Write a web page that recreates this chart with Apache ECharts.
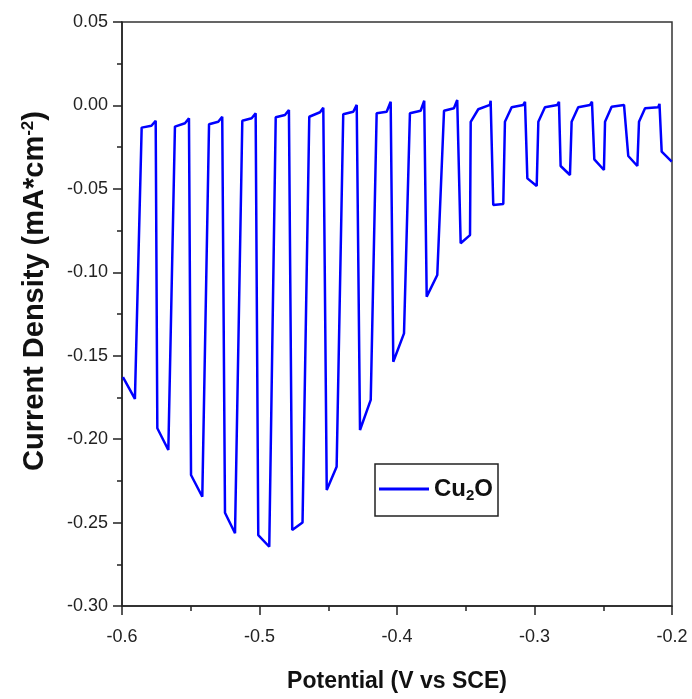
<!DOCTYPE html>
<html>
<head>
<meta charset="utf-8">
<script src="https://cdn.jsdelivr.net/npm/echarts@6/dist/echarts.min.js"></script>
<style>html,body{margin:0;padding:0;background:#fff}#c{width:692px;height:699px}</style>
</head>
<body>
<div id="c"></div>
<script>
// Potential (V vs SCE)
var potential = [
  -0.5993, -0.5906, -0.5857, -0.5786, -0.5755,
  -0.5743, -0.5663, -0.5615, -0.5542, -0.5513,
  -0.5498, -0.5416, -0.5367, -0.5300, -0.5271,
  -0.5251, -0.5178, -0.5125, -0.5057, -0.5028,
  -0.5009, -0.4929, -0.4882, -0.4815, -0.4786,
  -0.4762, -0.4687, -0.4638, -0.4560, -0.4536,
  -0.4511, -0.4439, -0.4391, -0.4318, -0.4293,
  -0.4269, -0.4191, -0.4148, -0.4075, -0.4046,
  -0.4027, -0.3949, -0.3906, -0.3828, -0.3802,
  -0.3784, -0.3707, -0.3658, -0.3586, -0.3562,
  -0.3537, -0.3469, -0.3464, -0.3409, -0.3324, -0.3319,
  -0.3300, -0.3227, -0.3215, -0.3166, -0.3082, -0.3069,
  -0.3052, -0.2984, -0.2972, -0.2924, -0.2834, -0.2822,
  -0.2810, -0.2742, -0.2730, -0.2682, -0.2596, -0.2582,
  -0.2565, -0.2495, -0.2487, -0.2439, -0.2349, -0.2337,
  -0.2318, -0.2252, -0.2240, -0.2196, -0.2100, -0.2091,
  -0.2075, -0.2002
];
// Current density (mA*cm^-2)
var current = [
  -0.1628, -0.1759, -0.0133, -0.0122, -0.0092,
  -0.1935, -0.2065, -0.0127, -0.0107, -0.0077,
  -0.2215, -0.2345, -0.0113, -0.0098, -0.0068,
  -0.2441, -0.2564, -0.0092, -0.0077, -0.0047,
  -0.2575, -0.2645, -0.0071, -0.0057, -0.0027,
  -0.2545, -0.2500, -0.0068, -0.0041, -0.0014,
  -0.2305, -0.2165, -0.0053, -0.0038, 0.0003,
  -0.1945, -0.1765, -0.0047, -0.0038, 0.0022,
  -0.1536, -0.1366, -0.0047, -0.0032, 0.0028,
  -0.1146, -0.1016, -0.0032, -0.0017, 0.0033,
  -0.0826, -0.0777, -0.0098, -0.0023, 0.0003, 0.0028,
  -0.0597, -0.0591, -0.0098, -0.0011, 0.0003, 0.0022,
  -0.0437, -0.0483, -0.0098, -0.0011, 0.0003, 0.0022,
  -0.0363, -0.0417, -0.0098, -0.0011, 0.0003, 0.0022,
  -0.0323, -0.0387, -0.0098, -0.0008, 0.0003, 0.0013,
  -0.0303, -0.0363, -0.0098, -0.0017, -0.0011, 0.0009,
  -0.0277, -0.0337
];
var seriesName = 'Cu2O';
var xTitle = 'Potential (V vs SCE)';

var data = potential.map(function (x, i) { return [x, current[i]]; });

var chart = echarts.init(document.getElementById('c'), null, {renderer: 'canvas'});
var labelFont = "'Liberation Sans', Arial, sans-serif";
chart.setOption({
  animation: false,
  backgroundColor: '#fff',
  grid: {left: 122, right: 20, top: 22, bottom: 93, show: true, borderColor: '#333', borderWidth: 1.5},
  legend: {
    left: 375, top: 464,
    padding: [13, 5, 13, 4],
    borderColor: '#222', borderWidth: 1.5,
    icon: 'rect', itemWidth: 50, itemHeight: 3,
    itemGap: 0,
    data: [seriesName],
    formatter: function () { return '{a|Cu}{b|2}{a|O}'; },
    textStyle: {
      rich: {
        a: {fontSize: 24, fontWeight: 'bold', color: '#111', fontFamily: labelFont},
        b: {fontSize: 15, fontWeight: 'bold', color: '#111', fontFamily: labelFont, padding: [13, 0, 0, 0]}
      }
    }
  },
  xAxis: {
    type: 'value', min: -0.6, max: -0.2, interval: 0.1,
    name: xTitle, nameLocation: 'middle', nameGap: 64,
    nameTextStyle: {fontSize: 23, fontWeight: 'bold', color: '#111', fontFamily: labelFont},
    axisLine: {show: true, onZero: false, lineStyle: {color: '#222', width: 1.5}},
    axisTick: {show: true, length: 9, lineStyle: {color: '#222', width: 1.5}},
    minorTick: {show: true, splitNumber: 2, length: 5, lineStyle: {color: '#222', width: 1.5}},
    splitLine: {show: false},
    axisLabel: {fontSize: 18, color: '#222', margin: 22, fontFamily: labelFont,
      formatter: function (v) { return v.toFixed(1); }}
  },
  yAxis: {
    type: 'value', min: -0.30, max: 0.05, interval: 0.05,
    name: '{t|Current Density (mA*cm}{s|-2}{t|)}', nameLocation: 'middle', nameGap: 72,
    nameTextStyle: {padding: [0, 0, 0, 46],
      rich: {
        t: {fontSize: 29, fontWeight: 'bold', color: '#111', fontFamily: labelFont},
        s: {fontSize: 17, fontWeight: 'bold', color: '#111', fontFamily: labelFont, padding: [0, 0, 13, 0]}
      }},
    axisLine: {show: true, onZero: false, lineStyle: {color: '#222', width: 1.5}},
    axisTick: {show: true, length: 9, lineStyle: {color: '#222', width: 1.5}},
    minorTick: {show: true, splitNumber: 2, length: 5, lineStyle: {color: '#222', width: 1.5}},
    splitLine: {show: false},
    axisLabel: {fontSize: 18, color: '#222', margin: 14, fontFamily: labelFont,
      formatter: function (v) { return v.toFixed(2); }}
  },
  series: [{
    name: seriesName, type: 'line', data: data,
    showSymbol: false, symbol: 'none',
    lineStyle: {color: '#0000ff', width: 2.5},
    itemStyle: {color: '#0000ff'}
  }]
});
</script>
</body>
</html>
